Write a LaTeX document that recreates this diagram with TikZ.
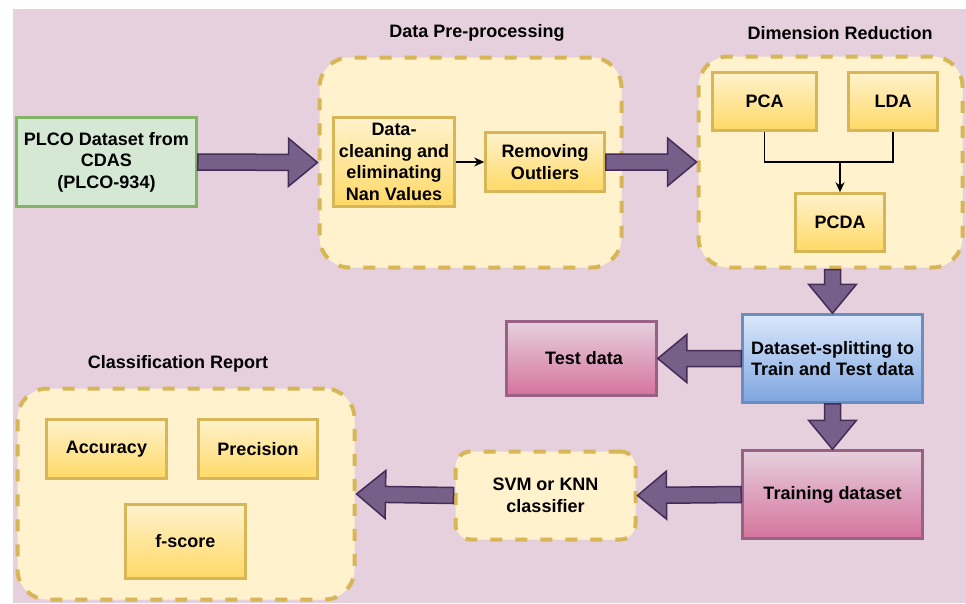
\documentclass[tikz,border=0pt]{standalone}
\usepackage{fontspec}
\setmainfont{Liberation Sans}
\usetikzlibrary{calc,arrows.meta}

\definecolor{bgmauve}{HTML}{E6D0DE}
\definecolor{boxfill}{HTML}{FFF2CC}
\definecolor{boxgold}{HTML}{FFD966}
\definecolor{boxline}{HTML}{D6B656}
\definecolor{pinktop}{HTML}{E6D0DE}
\definecolor{pinkbot}{HTML}{D5739D}
\definecolor{pinkline}{HTML}{996185}
\definecolor{bluetop}{HTML}{DAE8FC}
\definecolor{bluebot}{HTML}{7EA6E0}
\definecolor{blueline}{HTML}{6C8EBF}
\definecolor{greenfill}{HTML}{D5E8D4}
\definecolor{greenline}{HTML}{82B366}
\definecolor{arrfill}{HTML}{76608A}
\definecolor{arrline}{HTML}{432D57}

\tikzset{
  txt/.style={font=\fontsize{18}{21.5}\selectfont\bfseries, align=center, text=black, inner sep=0pt},
  group/.style={txt, draw=boxline, fill=boxfill, line width=4pt, dash pattern=on 12pt off 13pt, rounded corners=30pt},
  yellowbox/.style={txt, draw=boxline, line width=2.5pt, top color=boxfill, bottom color=boxgold},
  pinkbox/.style={txt, draw=pinkline, line width=2.5pt, top color=pinktop, bottom color=pinkbot},
  bluebox/.style={txt, draw=blueline, line width=2.5pt, top color=bluetop, bottom color=bluebot},
  greenbox/.style={txt, draw=greenline, fill=greenfill, line width=2.5pt},
  link/.style={line width=1.3pt, -{Stealth[length=10pt,width=9pt]}},
  wire/.style={line width=1.3pt},
  fatarrow/.style={draw=arrline, fill=arrfill, line width=1.5pt, line join=miter}
}

\newcommand\bigarrow[2]{%
  \coordinate (ah) at ($(#2)!29pt!(#1)$);
  \draw[fatarrow] ($(#1)!8pt!90:(#2)$) -- ($(ah)!8pt!90:(#2)$) -- ($(ah)!24pt!90:(#2)$) -- (#2)
    -- ($(ah)!24pt!-90:(#2)$) -- ($(ah)!8pt!-90:(#2)$) -- ($(#1)!8pt!-90:(#2)$) -- cycle;}

\begin{document}
\begin{tikzpicture}[x=1pt,y=-1pt]
  \useasboundingbox (0,0) rectangle (966,603);
  \fill[bgmauve] (13,9) rectangle (966,603);

  \node[group, minimum width=302, minimum height=210] (pre) at (470.5,162.5) {};
  \node[group, minimum width=264, minimum height=211] (dr) at (830.5,162) {};
  \node[group, minimum width=337, minimum height=211] (cls) at (186,494) {};
  \node[group, rounded corners=15pt, minimum width=180, minimum height=88] (svm) at (545.5,495.5) {SVM or KNN\\classifier};

  \node[txt] (pretitle) at (477,33) {Data Pre-processing};
  \node[txt] (drtitle) at (840,33) {Dimension Reduction};
  \node[txt] (clstitle) at (178,364) {Classification Report};

  \node[greenbox, minimum width=180, minimum height=89] (plco) at (106.5,162) {PLCO Dataset from\\CDAS\\(PLCO-934)};
  \node[yellowbox, minimum width=121, minimum height=89] (clean) at (394,162) {Data-\\cleaning and\\eliminating\\Nan Values};
  \node[yellowbox, minimum width=119, minimum height=59] (out) at (545,162) {Removing\\Outliers};
  \node[yellowbox, minimum width=104, minimum height=58] (pca) at (764.5,101.5) {PCA};
  \node[yellowbox, minimum width=89, minimum height=58] (lda) at (893,101.5) {LDA};
  \node[yellowbox, minimum width=89, minimum height=58] (pcda) at (840,222.5) {PCDA};
  \node[bluebox, minimum width=180, minimum height=88] (split) at (832.5,358.5) {Dataset-splitting to\\Train and Test data};
  \node[pinkbox, minimum width=150, minimum height=74] (test) at (581.5,358.5) {\hspace{5pt}Test data};
  \node[pinkbox, minimum width=180, minimum height=88] (train) at (832.5,494.5) {Training dataset};
  \node[yellowbox, minimum width=120, minimum height=59] (acc) at (106.5,449) {Accuracy};
  \node[yellowbox, minimum width=119, minimum height=59] (prec) at (258,449) {Precision};
  \node[yellowbox, minimum width=120, minimum height=74] (fscore) at (185.5,541.5) {f-score};

  \draw[link] (clean) -- (out);
  \coordinate (join) at (pcda.north |- 0,162);
  \draw[wire] (pca.south) |- (join) -| (lda.south);
  \draw[link] (join) -- (pcda.north);

  \coordinate (drout) at (dr.south -| split.north);
  \bigarrow{plco.east}{pre.west}
  \bigarrow{out.east}{dr.west}
  \bigarrow{drout}{split.north}
  \bigarrow{split.west}{test.east}
  \bigarrow{split.south}{train.north}
  \bigarrow{train.west}{svm.east}
  \bigarrow{svm.west}{cls.east}
\end{tikzpicture}
\end{document}
